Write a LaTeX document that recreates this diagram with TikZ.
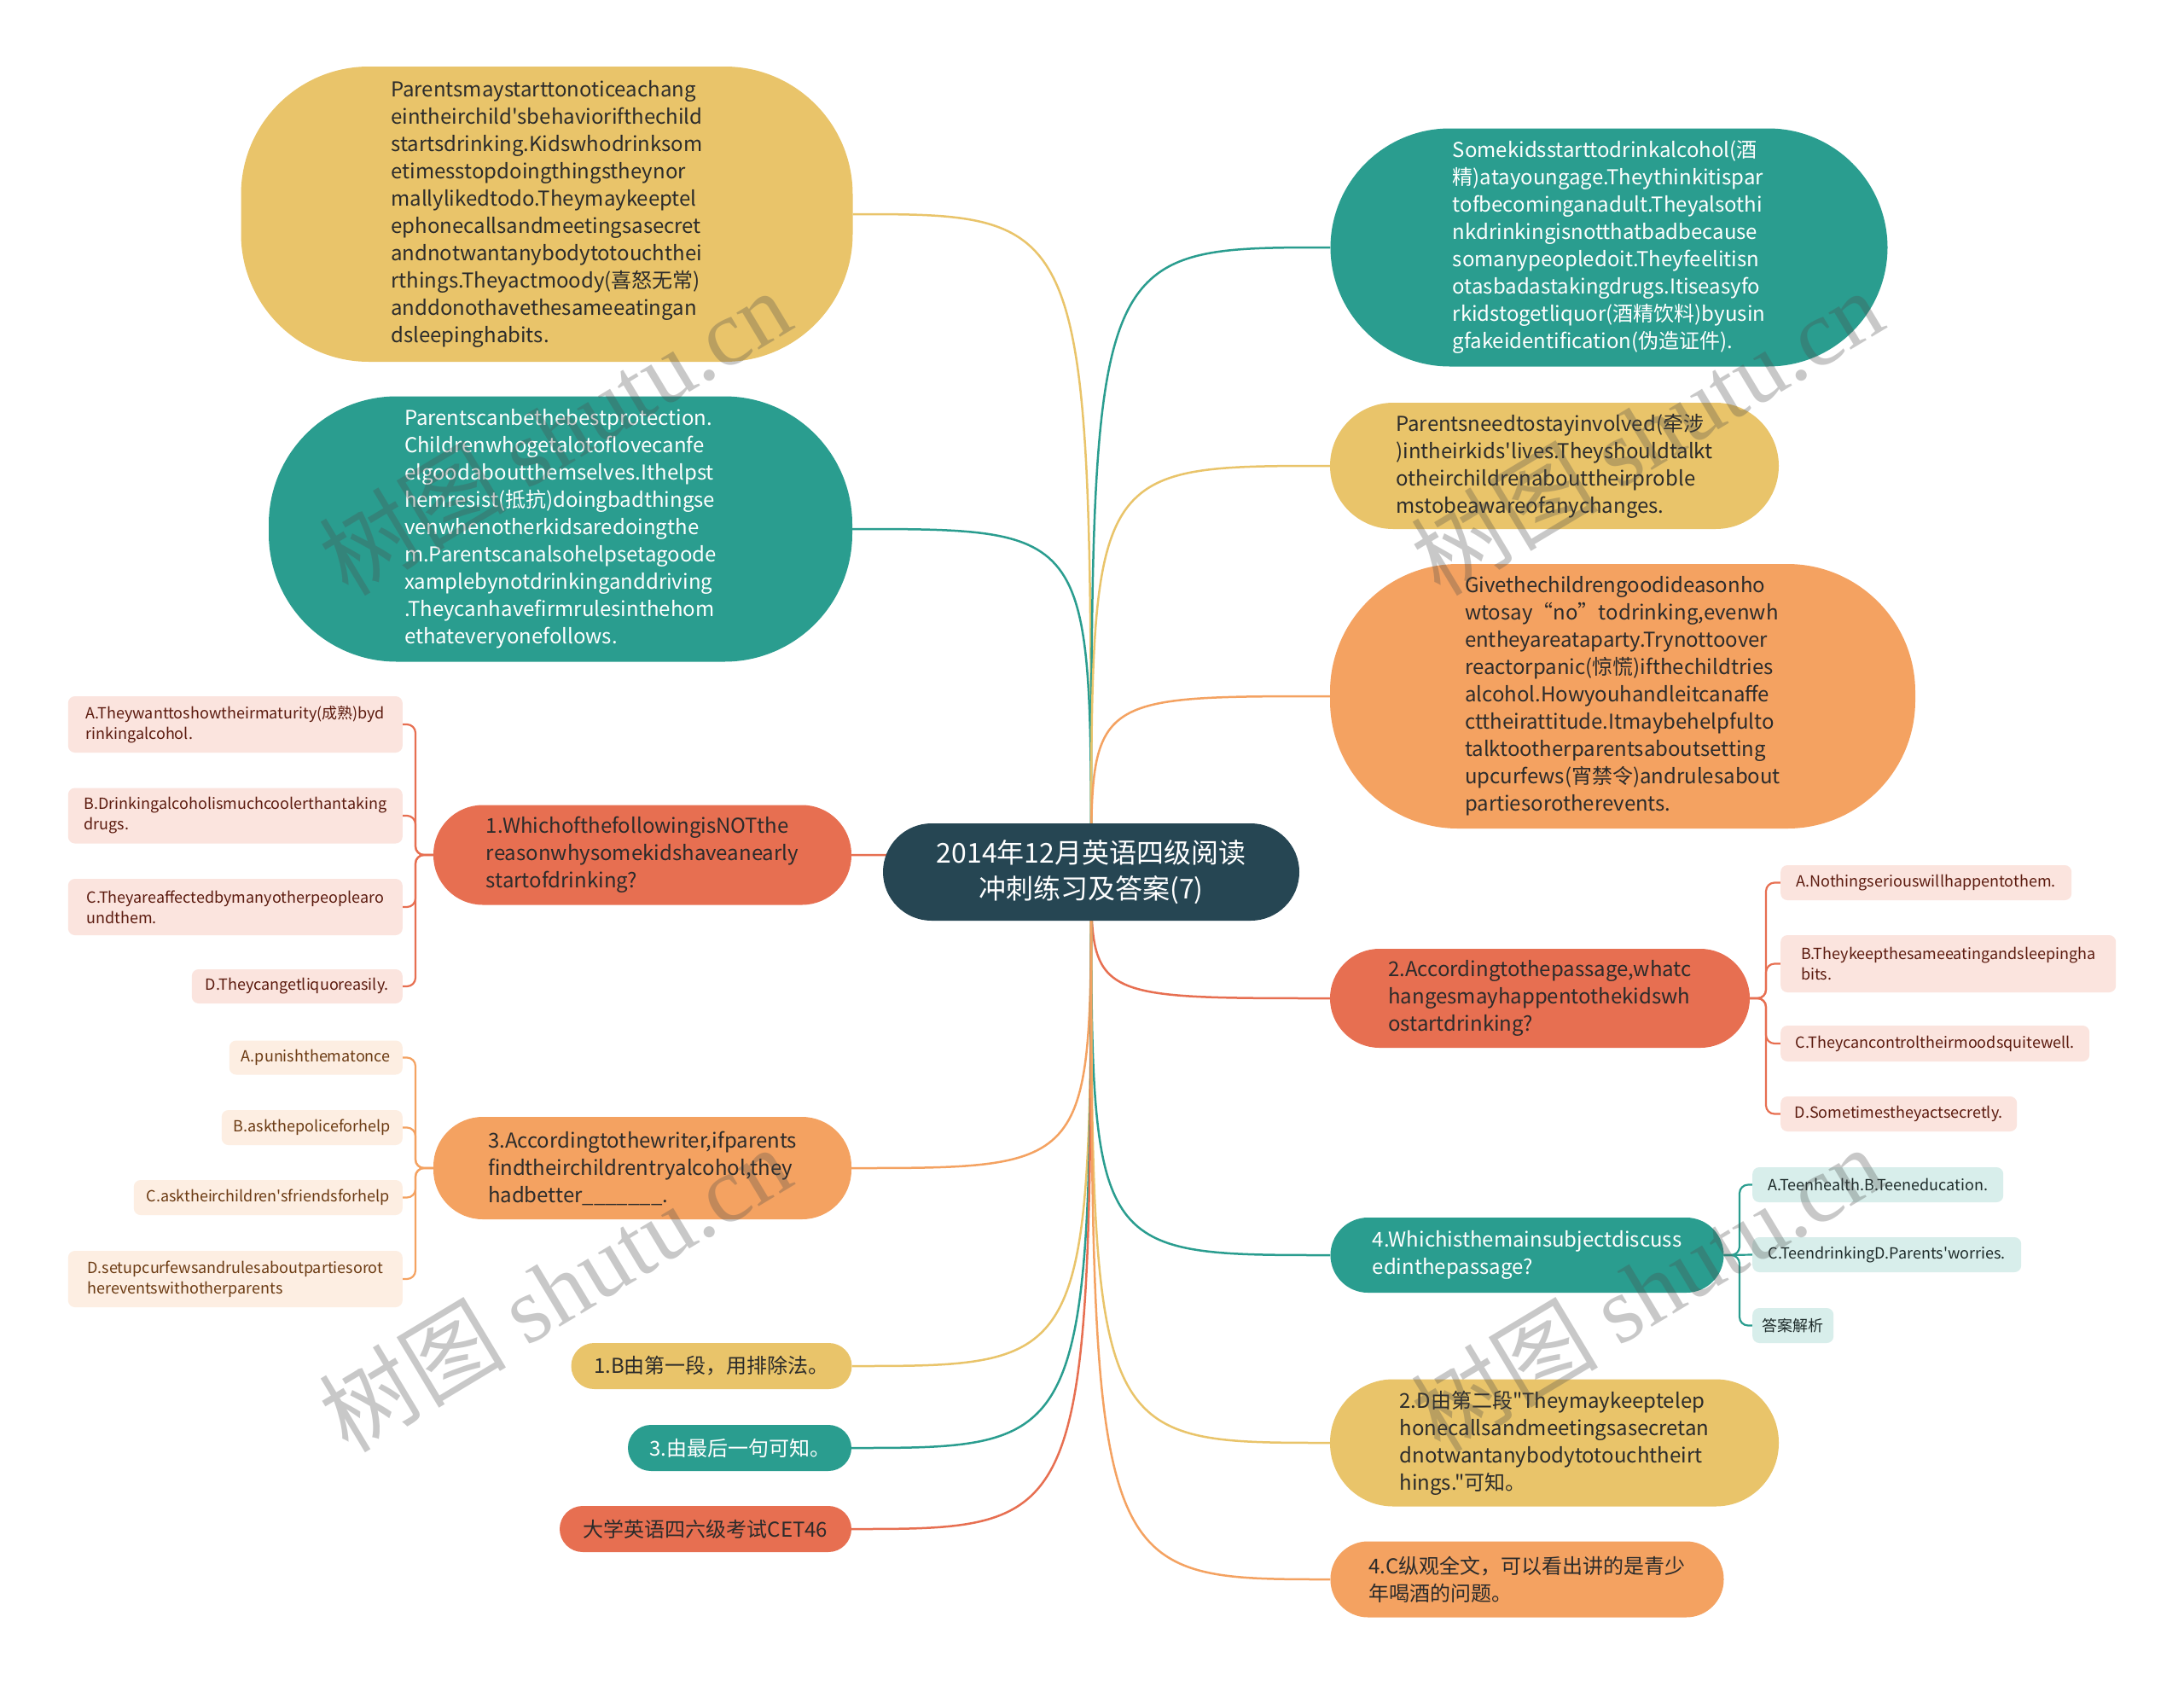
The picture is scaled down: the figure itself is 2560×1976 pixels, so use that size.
\documentclass[tikz,border=0pt]{standalone}
\usepackage{fontspec}
\setmainfont{Noto Sans CJK SC}[Ligatures=TeXOff]
\newfontfamily\wmserif{Liberation Serif}
\usetikzlibrary{backgrounds}
\definecolor{cyel}{HTML}{E9C46A}
\definecolor{cteal}{HTML}{2A9D8F}
\definecolor{corg}{HTML}{F4A261}
\definecolor{cred}{HTML}{E76F51}
\definecolor{cdark}{HTML}{264653}
\definecolor{txtdark}{HTML}{2B2B2B}
\definecolor{pinkfill}{HTML}{FBE4DE}
\definecolor{pinktext}{HTML}{5B1A0E}
\definecolor{peachfill}{HTML}{FDEEE2}
\definecolor{peachtext}{HTML}{6B3A12}
\definecolor{tealfill}{HTML}{D8EEEB}
\definecolor{tealtext}{HTML}{1E2B2A}
\tikzset{
  mn/.style={inner sep=0pt, align=left, font=\fontsize{24}{32}\selectfont, text=txtdark},
  sz/.style 2 args={minimum width=#1pt, minimum height=#2pt},
  cs/.style={inner sep=0pt, align=left, font=\fontsize{18}{24}\selectfont, rounded corners=8pt},
  edge/.style={line width=2.5pt},
  brk/.style={line width=2.2pt, rounded corners=10pt},
  wm/.style={text=black!70, opacity=0.3, font=\fontsize{110}{110}\selectfont, rotate=31}
}
\begin{document}
\begin{tikzpicture}[x=1pt,y=-1pt]
\useasboundingbox (0,0) rectangle (2560,1976);

% center
\node[mn, fill=cdark, text=white, align=center, rounded corners=57pt, sz={488}{114},
  font=\fontsize{32}{42}\selectfont] (c) at (1279,1022) {2014年12月英语四级阅读\\冲刺练习及答案(7)};

% left main nodes
\node[mn, fill=cyel, rounded corners=150pt, sz={717}{346}] (L1) at (641,251) {Parentsmaystarttonoticeachang\\eintheirchild'sbehaviorifthechild\\startsdrinking.Kidswhodrinksom\\etimesstopdoingthingstheynor\\mallylikedtodo.Theymaykeeptel\\ephonecallsandmeetingsasecret\\andnotwantanybodytotouchthei\\rthings.Theyactmoody(喜怒无常)\\anddonothavethesameeatingan\\dsleepinghabits.};
\node[mn, fill=cteal, text=white, rounded corners=150pt, sz={684}{311}] (L2) at (657,620) {Parentscanbethebestprotection.\\Childrenwhogetalotoflovecanfe\\elgoodaboutthemselves.Ithelpst\\hemresist(抵抗)doingbadthingse\\venwhenotherkidsaredoingthe\\m.Parentscanalsohelpsetagoode\\xamplebynotdrinkinganddriving\\.Theycanhavefirmrulesinthehom\\ethateveryonefollows.};
\node[mn, fill=cred, rounded corners=58pt, sz={490}{117}] (Q1) at (753,1002) {1.WhichofthefollowingisNOTthe\\reasonwhysomekidshaveanearly\\startofdrinking?};
\node[mn, fill=corg, rounded corners=58pt, sz={490}{120}] (Q3) at (753,1369) {3.Accordingtothewriter,ifparents\\findtheirchildrentryalcohol,they\\hadbetter\_\_\_\_\_\_\_.};
\node[mn, fill=cyel, align=center, rounded corners=27pt, sz={329}{54}] (L5) at (834,1601) {1.B由第一段，用排除法。};
\node[mn, fill=cteal, text=white, align=center, rounded corners=27pt, sz={262}{54}] (L6) at (867,1697) {3.由最后一句可知。};
\node[mn, fill=cred, align=center, rounded corners=27pt, sz={342}{54}] (L7) at (827,1792) {大学英语四六级考试CET46};

% right main nodes
\node[mn, fill=cteal, text=white, rounded corners=140pt, sz={653}{279}] (R1) at (1886,290) {Somekidsstarttodrinkalcohol(酒\\精)atayoungage.Theythinkitispar\\tofbecominganadult.Theyalsothi\\nkdrinkingisnotthatbadbecause\\somanypeopledoit.Theyfeelitisn\\otasbadastakingdrugs.Itiseasyfo\\rkidstogetliquor(酒精饮料)byusin\\gfakeidentification(伪造证件).};
\node[mn, fill=cyel, rounded corners=74pt, sz={526}{148}] (R2) at (1822,546) {Parentsneedtostayinvolved(牵涉\\)intheirkids'lives.Theyshouldtalkt\\otheirchildrenabouttheirproble\\mstobeawareofanychanges.};
\node[mn, fill=corg, rounded corners=150pt, sz={686}{310}] (R3) at (1902,816) {Givethechildrengoodideasonho\\wtosay“no”todrinking,evenwh\\entheyareataparty.Trynottoover\\reactorpanic(惊慌)ifthechildtries\\alcohol.Howyouhandleitcanaffe\\cttheirattitude.Itmaybehelpfulto\\talktootherparentsaboutsetting\\upcurfews(宵禁令)andrulesabout\\partiesorotherevents.};
\node[mn, fill=cred, rounded corners=58pt, sz={492}{116}] (Q2) at (1805,1170) {2.Accordingtothepassage,whatc\\hangesmayhappentothekidswh\\ostartdrinking?};
\node[mn, fill=cteal, text=white, rounded corners=44pt, sz={461}{88}] (Q4) at (1790,1471) {4.Whichisthemainsubjectdiscuss\\edinthepassage?};
\node[mn, fill=cyel, rounded corners=74pt, sz={526}{149}] (R6) at (1822,1691) {2.D由第二段"Theymaykeeptelep\\honecallsandmeetingsasecretan\\dnotwantanybodytotouchtheirt\\hings."可知。};
\node[mn, fill=corg, rounded corners=44pt, sz={461}{89}] (R7) at (1790,1851) {4.C纵观全文，可以看出讲的是青少\\年喝酒的问题。};

% Q1 children
\node[cs, fill=pinkfill, text=pinktext, sz={392}{66}, anchor=east] (Q1A) at (472,849) {A.Theywanttoshowtheirmaturity(成熟)byd\\rinkingalcohol.};
\node[cs, fill=pinkfill, text=pinktext, sz={392}{65}, anchor=east] (Q1B) at (472,956) {B.Drinkingalcoholismuchcoolerthantaking\\drugs.};
\node[cs, fill=pinkfill, text=pinktext, sz={392}{66}, anchor=east] (Q1C) at (472,1063) {C.Theyareaffectedbymanyotherpeoplearo\\undthem.};
\node[cs, fill=pinkfill, text=pinktext, sz={247}{40}, anchor=east] (Q1D) at (472,1156) {D.Theycangetliquoreasily.};

% Q3 children
\node[cs, fill=peachfill, text=peachtext, sz={203}{40}, anchor=east] (Q3A) at (472,1239.5) {A.punishthematonce};
\node[cs, fill=peachfill, text=peachtext, sz={212}{41}, anchor=east] (Q3B) at (472,1321.5) {B.askthepoliceforhelp};
\node[cs, fill=peachfill, text=peachtext, sz={315}{41}, anchor=east] (Q3C) at (472,1403.5) {C.asktheirchildren'sfriendsforhelp};
\node[cs, fill=peachfill, text=peachtext, sz={392}{66}, anchor=east] (Q3D) at (472,1499) {D.setupcurfewsandrulesaboutpartiesorot\\hereventswithotherparents};

% Q2 children
\node[cs, fill=pinkfill, text=pinktext, sz={341}{41}, anchor=west] (Q2A) at (2087,1034.5) {A.Nothingseriouswillhappentothem.};
\node[cs, fill=pinkfill, text=pinktext, sz={393}{67}, anchor=west] (Q2B) at (2087,1129.5) {B.Theykeepthesameeatingandsleepingha\\bits.};
\node[cs, fill=pinkfill, text=pinktext, sz={362}{42}, anchor=west] (Q2C) at (2087,1223) {C.Theycancontroltheirmoodsquitewell.};
\node[cs, fill=pinkfill, text=pinktext, sz={277}{41}, anchor=west] (Q2D) at (2087,1305.5) {D.Sometimestheyactsecretly.};

% Q4 children
\node[cs, fill=tealfill, text=tealtext, sz={294}{41}, anchor=west] (Q4A) at (2054,1388.5) {A.Teenhealth.B.Teeneducation.};
\node[cs, fill=tealfill, text=tealtext, sz={315}{41}, anchor=west] (Q4B) at (2054,1470.5) {C.TeendrinkingD.Parents'worries.};
\node[cs, fill=tealfill, text=tealtext, sz={95}{41}, anchor=west] (Q4C) at (2054,1553.5) {答案解析};

\coordinate (j1) at (487,1002);
\coordinate (j3) at (487,1369);
\coordinate (j2) at (2070,1170);
\coordinate (j4) at (2039,1471);

\begin{scope}[on background layer]
\fill[white] (0,0) rectangle (2560,1976);
\draw[edge, cyel]  (c.center) .. controls (c.center |- L1.east) .. (L1.east);
\draw[edge, cteal] (c.center) .. controls (c.center |- L2.east) .. (L2.east);
\draw[edge, cred]  (c.center) .. controls (c.center |- Q1.east) .. (Q1.east);
\draw[edge, corg]  (c.center) .. controls (c.center |- Q3.east) .. (Q3.east);
\draw[edge, cyel]  (c.center) .. controls (c.center |- L5.east) .. (L5.east);
\draw[edge, cteal] (c.center) .. controls (c.center |- L6.east) .. (L6.east);
\draw[edge, cred]  (c.center) .. controls (c.center |- L7.east) .. (L7.east);
\draw[edge, cteal] (c.center) .. controls (c.center |- R1.west) .. (R1.west);
\draw[edge, cyel]  (c.center) .. controls (c.center |- R2.west) .. (R2.west);
\draw[edge, corg]  (c.center) .. controls (c.center |- R3.west) .. (R3.west);
\draw[edge, cred]  (c.center) .. controls (c.center |- Q2.west) .. (Q2.west);
\draw[edge, cteal] (c.center) .. controls (c.center |- Q4.west) .. (Q4.west);
\draw[edge, cyel]  (c.center) .. controls (c.center |- R6.west) .. (R6.west);
\draw[edge, corg]  (c.center) .. controls (c.center |- R7.west) .. (R7.west);

\foreach \ch in {Q1A,Q1B,Q1C,Q1D}
  \draw[brk, cred] (Q1.west) -- (j1) |- (\ch.east);
\foreach \ch in {Q3A,Q3B,Q3C,Q3D}
  \draw[brk, corg] (Q3.west) -- (j3) |- (\ch.east);
\foreach \ch in {Q2A,Q2B,Q2C,Q2D}
  \draw[brk, cred] (Q2.east) -- (j2) |- (\ch.west);
\draw[brk, cteal] (Q4.east) -- (j4) |- (Q4A.west);
\draw[brk, cteal] (Q4.east) -- (Q4B.west);
\draw[brk, cteal] (Q4.east) -- (j4) |- (Q4C.west);
\end{scope}

% watermarks
\node[wm] (w1) at (650,506) {树图 {\wmserif shutu.cn}};
\node[wm] (w2) at (1930,506) {树图 {\wmserif shutu.cn}};
\node[wm] (w3) at (650,1510) {树图 {\wmserif shutu.cn}};
\node[wm] (w4) at (1930,1510) {树图 {\wmserif shutu.cn}};
\end{tikzpicture}
\end{document}
